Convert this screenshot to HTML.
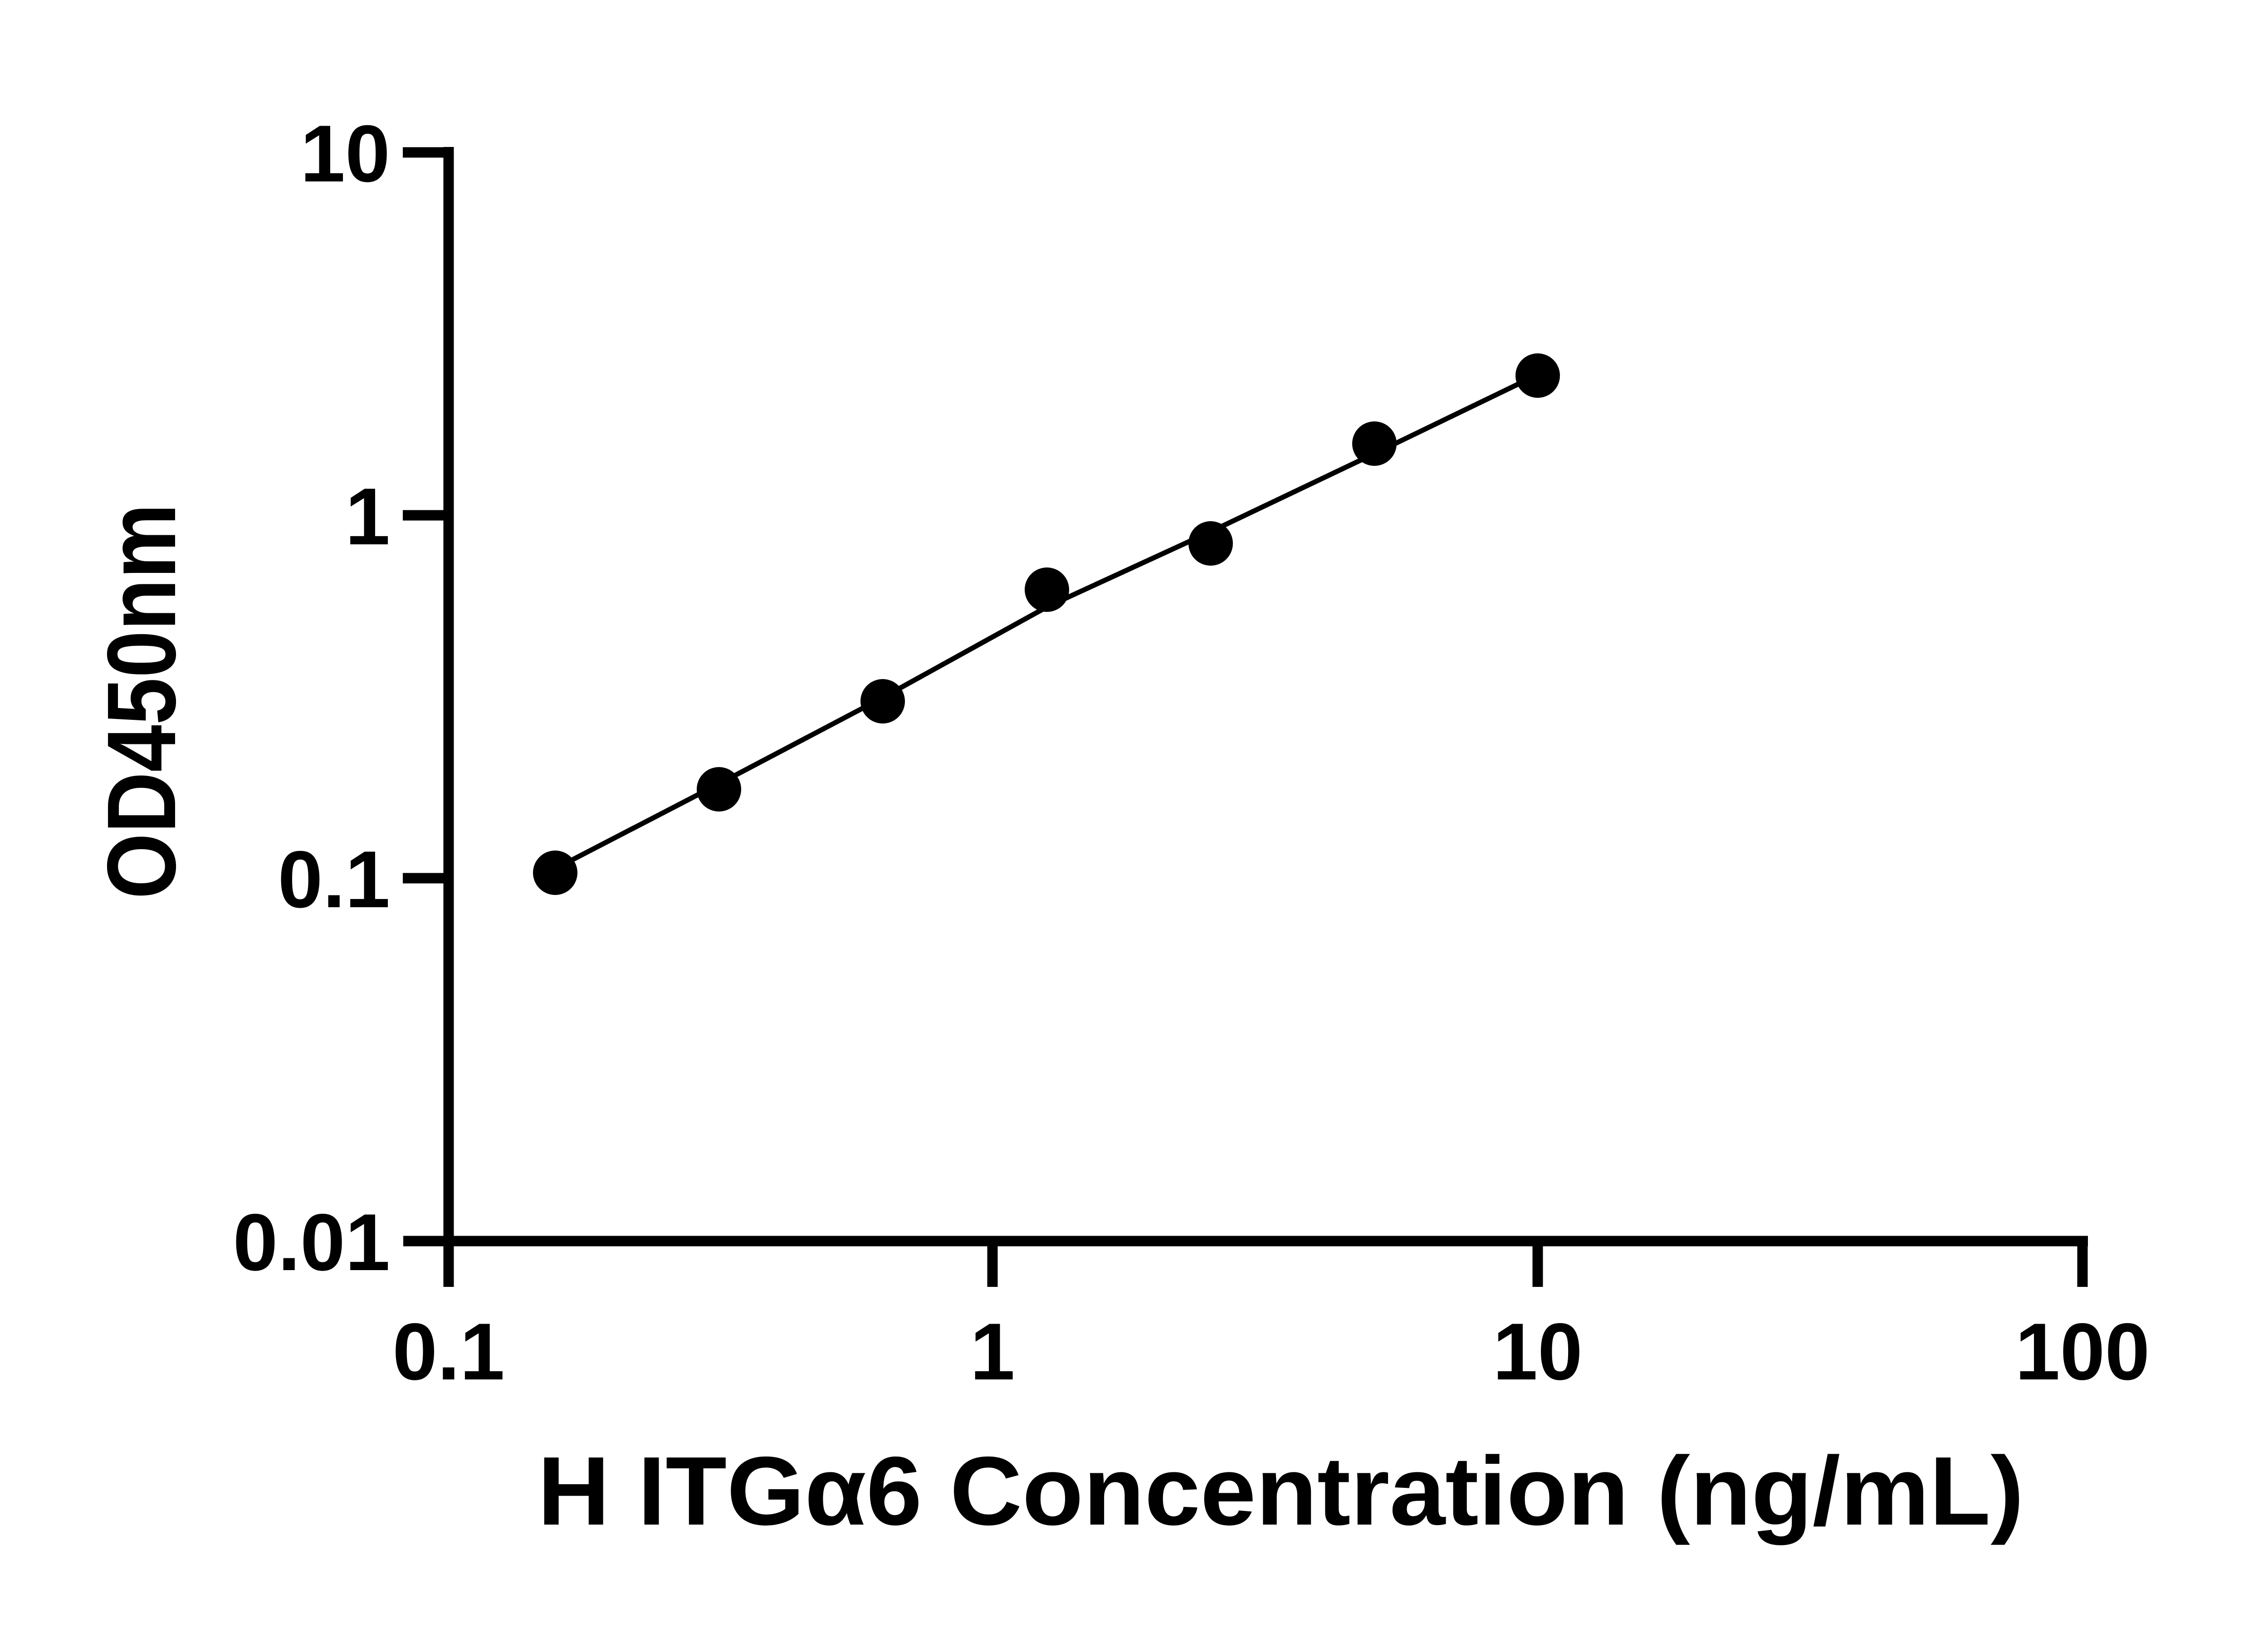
<!DOCTYPE html>
<html><head><meta charset="utf-8"><style>
html,body{margin:0;padding:0;background:#fff;}
svg{display:block;}
text{font-family:"Liberation Sans",sans-serif;font-weight:bold;fill:#000;}
</style></head><body>
<svg width="5142" height="3600" viewBox="0 0 5142 3600" xmlns="http://www.w3.org/2000/svg">
<g stroke="#000" fill="none">
<line x1="989" y1="324" x2="989" y2="2837" stroke-width="23"/>
<line x1="889" y1="2736" x2="4603" y2="2736" stroke-width="23"/>
<line x1="888" y1="336" x2="1000" y2="336" stroke-width="23"/>
<line x1="888" y1="1136" x2="989" y2="1136" stroke-width="23"/>
<line x1="888" y1="1936" x2="989" y2="1936" stroke-width="23"/>
<line x1="2188" y1="2736" x2="2188" y2="2837" stroke-width="23"/>
<line x1="3390" y1="2736" x2="3390" y2="2837" stroke-width="23"/>
<line x1="4591" y1="2736" x2="4591" y2="2837" stroke-width="23"/>
<polyline stroke-width="11" points="1224,1915 1585,1728 1946,1538 2308,1338 2669,1172 3030,1000 3390,826"/>
</g>
<g fill="#000">
<circle cx="1224" cy="1924" r="49"/>
<circle cx="1585" cy="1740" r="49"/>
<circle cx="1946" cy="1546" r="49"/>
<circle cx="2308" cy="1300" r="49"/>
<circle cx="2669" cy="1198" r="49"/>
<circle cx="3030" cy="978" r="49"/>
<circle cx="3390" cy="828" r="49"/>
</g>
<g font-size="178" text-anchor="end">
<text x="860" y="400">10</text>
<text x="860" y="1200">1</text>
<text x="860" y="2000">0.1</text>
<text x="860" y="2800">0.01</text>
</g>
<g font-size="178" text-anchor="middle">
<text x="989" y="3041">0.1</text>
<text x="2188" y="3041">1</text>
<text x="3390" y="3041">10</text>
<text x="4591" y="3041">100</text>
</g>
<text x="1185" y="3361" font-size="215" textLength="3277" lengthAdjust="spacingAndGlyphs">H ITGα6 Concentration (ng/mL)</text>
<text transform="translate(386,1982) rotate(-90)" font-size="215" textLength="872" lengthAdjust="spacingAndGlyphs">OD450nm</text>
</svg>
</body></html>
